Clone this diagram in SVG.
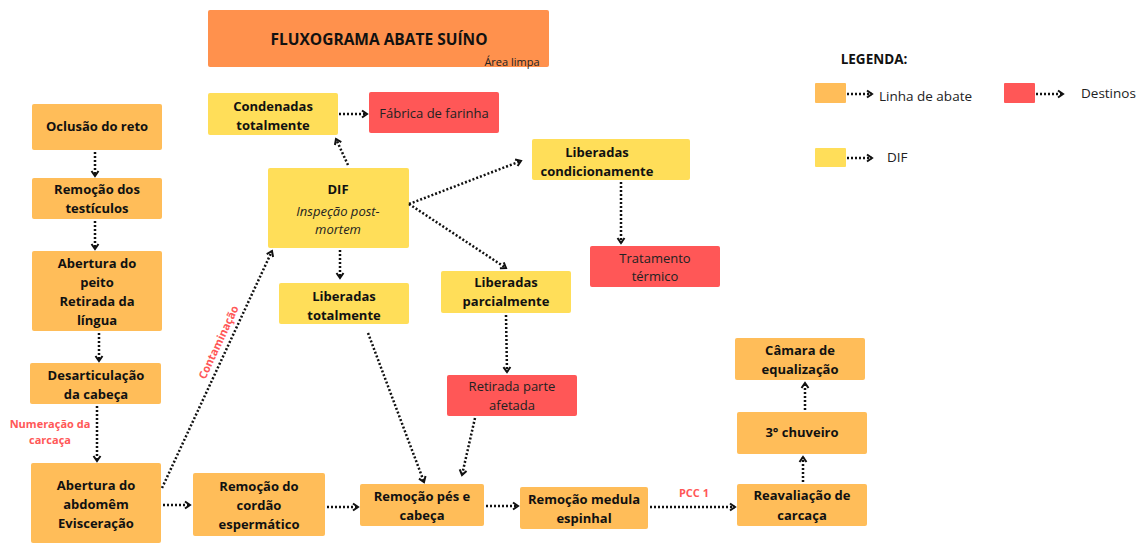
<svg xmlns="http://www.w3.org/2000/svg" width="1143" height="543" viewBox="0 0 1143 543">
<defs>
<style>
.o{fill:#FFBD59}
.y{fill:#FFDE59}
.r{fill:#FF5757}
.t{font-family:"Open Sans","DejaVu Sans",sans-serif;font-size:13px;font-weight:bold;fill:#111;text-anchor:middle}
.n{font-family:"Open Sans","DejaVu Sans",sans-serif;font-size:13px;fill:#222;text-anchor:middle}
.i{font-family:"Open Sans","DejaVu Sans",sans-serif;font-size:13px;font-style:italic;fill:#222;text-anchor:middle}
.lab{font-family:"Open Sans","DejaVu Sans",sans-serif;font-size:11px;font-weight:bold;fill:#FF5757;text-anchor:middle}
.c{fill:none;stroke:#111;stroke-width:2.5;stroke-dasharray:2 2;marker-end:url(#a)}
</style>
<marker id="a" viewBox="0 0 10 10" refX="7" refY="5" markerWidth="10" markerHeight="10" markerUnits="userSpaceOnUse" orient="auto">
<path d="M2,1.5 L7,5 L2,8.5" fill="none" stroke="#111" stroke-width="2"/>
</marker>
</defs>
<rect width="1143" height="543" fill="#fff"/>

<g id="title">
<rect x="208" y="10" width="341" height="57" rx="2" fill="#FF914D"/>
<text x="379" y="45" class="t" style="font-size:15.5px">FLUXOGRAMA ABATE SUÍNO</text>
<text x="512" y="66" style="font-family:'Open Sans',sans-serif;font-size:11px;fill:#222;text-anchor:middle">Área limpa</text>
</g>

<g id="legend">
<text x="874" y="64" class="t" style="font-size:13.5px">LEGENDA:</text>
<rect x="815" y="83" width="31" height="20" rx="1" class="o"/>
<line x1="847" y1="94" x2="872" y2="94" class="c"/>
<text x="879" y="101" style="font-family:'Open Sans',sans-serif;font-size:13.5px;fill:#222">Linha de abate</text>
<rect x="1004" y="83" width="31" height="20" rx="1" class="r"/>
<line x1="1036" y1="94" x2="1063" y2="94" class="c"/>
<text x="1081" y="98" style="font-family:'Open Sans',sans-serif;font-size:13.5px;fill:#222">Destinos</text>
<rect x="815" y="148" width="31" height="19" rx="1" class="y"/>
<line x1="847" y1="158" x2="872" y2="158" class="c"/>
<text x="887" y="162" style="font-family:'Open Sans',sans-serif;font-size:13.5px;fill:#222">DIF</text>
</g>

<g id="oclusao"><rect x="32" y="104" width="130" height="46" rx="2" class="o"/><text x="97" y="131" class="t">Oclusão do reto</text></g>
<g id="testiculos"><rect x="32" y="178" width="130" height="41" rx="2" class="o"/><text x="97" y="194" class="t">Remoção dos</text><text x="97" y="213" class="t">testículos</text></g>
<g id="peito"><rect x="32" y="251" width="130" height="80" rx="2" class="o"/><text x="97" y="268" class="t">Abertura do</text><text x="97" y="287" class="t">peito</text><text x="97" y="306" class="t">Retirada da</text><text x="97" y="325" class="t">língua</text></g>
<g id="desarticulacao"><rect x="30" y="363" width="131" height="41" rx="2" class="o"/><text x="96" y="380" class="t">Desarticulação</text><text x="96" y="399" class="t">da cabeça</text></g>
<g id="abdomem"><rect x="31" y="463" width="130" height="80" rx="2" class="o"/><text x="96" y="490" class="t">Abertura do</text><text x="96" y="509" class="t">abdomêm</text><text x="96" y="528" class="t">Evisceração</text></g>
<g id="cordao"><rect x="193" y="473" width="132" height="63" rx="2" class="o"/><text x="259" y="491" class="t">Remoção do</text><text x="259" y="510" class="t">cordão</text><text x="259" y="529" class="t">espermático</text></g>
<g id="pes"><rect x="360" y="484" width="124" height="42" rx="2" class="o"/><text x="422" y="501" class="t">Remoção pés e</text><text x="422" y="520" class="t">cabeça</text></g>
<g id="medula"><rect x="520" y="487" width="128" height="42" rx="2" class="o"/><text x="584" y="504" class="t">Remoção medula</text><text x="584" y="523" class="t">espinhal</text></g>
<g id="reavaliacao"><rect x="737" y="484" width="130" height="42" rx="2" class="o"/><text x="802" y="500" class="t">Reavaliação de</text><text x="802" y="520" class="t">carcaça</text></g>
<g id="chuveiro"><rect x="737" y="412" width="130" height="42" rx="2" class="o"/><text x="802" y="437" class="t">3° chuveiro</text></g>
<g id="camara"><rect x="735" y="338" width="130" height="42" rx="2" class="o"/><text x="800" y="355" class="t">Câmara de</text><text x="800" y="374" class="t">equalização</text></g>

<g id="dif"><rect x="268" y="168" width="141" height="80" rx="2" class="y"/><text x="338" y="194" class="t">DIF</text><text x="338" y="216" class="i">Inspeção post-</text><text x="338" y="234" class="i">mortem</text></g>
<g id="condenadas"><rect x="208" y="93" width="130" height="42" rx="2" class="y"/><text x="273" y="111" class="t">Condenadas</text><text x="273" y="130" class="t">totalmente</text></g>
<g id="fabrica"><rect x="369" y="92" width="130" height="41" rx="2" class="r"/><text x="434" y="118" class="n">Fábrica de farinha</text></g>
<g id="condicionamente"><rect x="532" y="139" width="158" height="41" rx="2" class="y"/><text x="597" y="157" class="t">Liberadas</text><text x="597" y="176" class="t">condicionamente</text></g>
<g id="tratamento"><rect x="590" y="246" width="130" height="41" rx="2" class="r"/><text x="655" y="263" class="n">Tratamento</text><text x="655" y="281" class="n">térmico</text></g>
<g id="parcialmente"><rect x="441" y="271" width="130" height="42" rx="2" class="y"/><text x="506" y="287" class="t">Liberadas</text><text x="506" y="306" class="t">parcialmente</text></g>
<g id="retirada"><rect x="447" y="375" width="130" height="41" rx="2" class="r"/><text x="512" y="391" class="n">Retirada parte</text><text x="512" y="410" class="n">afetada</text></g>
<g id="totalmente"><rect x="279" y="283" width="130" height="41" rx="2" class="y"/><text x="344" y="301" class="t">Liberadas</text><text x="344" y="320" class="t">totalmente</text></g>

<g id="connectors">
<line x1="95" y1="152" x2="95" y2="176" class="c"/>
<line x1="95" y1="221" x2="95" y2="249" class="c"/>
<line x1="99" y1="333" x2="99" y2="361" class="c"/>
<line x1="97" y1="406" x2="97" y2="461" class="c"/>
<line x1="163" y1="505" x2="190" y2="505" class="c"/>
<line x1="327" y1="507" x2="358" y2="507" class="c"/>
<line x1="486" y1="506" x2="518" y2="506" class="c"/>
<line x1="650" y1="507" x2="735" y2="507" class="c"/>
<line x1="803" y1="482" x2="803" y2="457" class="c"/>
<line x1="805" y1="410" x2="805" y2="383" class="c"/>
<line x1="162" y1="488" x2="272" y2="251" class="c"/>
<line x1="348" y1="165" x2="336" y2="139" class="c"/>
<line x1="339" y1="114" x2="367" y2="114" class="c"/>
<line x1="409" y1="204" x2="521" y2="161" class="c"/>
<line x1="409" y1="204" x2="506" y2="268" class="c"/>
<line x1="621" y1="182" x2="621" y2="243" class="c"/>
<line x1="506" y1="315" x2="507" y2="372" class="c"/>
<line x1="340" y1="250" x2="340" y2="278" class="c"/>
<line x1="368" y1="333" x2="424" y2="482" class="c"/>
<line x1="475" y1="418" x2="462" y2="475" class="c"/>
<text x="50" y="428" class="lab">Numeração da</text>
<text x="50" y="444" class="lab">carcaça</text>
<text x="694" y="497" class="lab">PCC 1</text>
<text x="0" y="0" class="lab" transform="translate(222,344) rotate(-65)">Contaminação</text>
</g>
</svg>
